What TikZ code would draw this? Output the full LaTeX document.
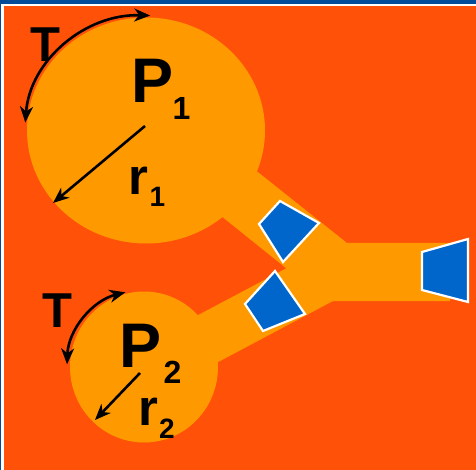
\documentclass[tikz,border=0pt]{standalone}
\usepackage{fontspec}
\setmainfont{Liberation Sans}
\usetikzlibrary{shapes.geometric,arrows.meta}
\definecolor{bgred}{HTML}{FF5208}
\definecolor{orng}{HTML}{FF9900}
\definecolor{blu}{HTML}{0066CC}
\definecolor{frameblue}{HTML}{004C99}
\tikzset{
  bulb/.style={ellipse, fill=orng, inner sep=0pt, draw=none},
  valve/.style={fill=blu, draw=white, line width=2.2pt, line join=miter},
  lbl/.style={inner sep=0pt, text=black, font=\bfseries},
  tip/.style={Stealth[length=16pt,width=13pt,inset=5pt]},
  arr/.style={line width=2.6pt, -{Stealth[length=16pt,width=13pt,inset=5pt]}},
  darr/.style={line width=2.6pt, {Stealth[length=16pt,width=13pt,inset=5pt]}-{Stealth[length=16pt,width=13pt,inset=5pt]}}
}
\begin{document}
\begin{tikzpicture}[x=1pt,y=-1pt]
\useasboundingbox (0,0) rectangle (476,470);
% frame and background
\fill[frameblue] (0,0) rectangle (476,470);
\fill[white] (1,4) rectangle (476,470);
\fill[bgred] (4,6) rectangle (476,470);
% stems and bar
\fill[orng] (200,126) -- (347,243) -- (450,243) -- (450,301) -- (333,301)
  -- (190,377) -- (170,330) -- (286.3,268.3) -- (180,183) -- cycle;
% bulbs
\node[bulb, minimum width=238pt, minimum height=226pt] (P1c) at (146,130.5) {};
\node[bulb, minimum width=148pt, minimum height=151pt] (P2c) at (144,367) {};
% valves
\filldraw[valve] (280,201) -- (319,223) -- (283,262) -- (259,224) -- cycle;
\filldraw[valve] (275,271) -- (305,314) -- (263,331) -- (245,304) -- cycle;
\filldraw[valve] (422,252) -- (468,239) -- (468,302) -- (422,290) -- cycle;
% labels
\node[lbl, anchor=base, font=\bfseries\fontsize{49}{49}\selectfont] (T1) at (45.5,62) {T};
\node[lbl, anchor=base, font=\bfseries\fontsize{63}{63}\selectfont] (P1) at (153,103) {P};
\node[lbl, anchor=base, font=\bfseries\fontsize{32}{32}\selectfont] (s1) at (181.5,120) {1};
\node[lbl, anchor=base east, font=\bfseries\fontsize{51}{51}\selectfont] (r1) at (149,195) {r};
\node[lbl, anchor=base west, font=\bfseries\fontsize{28}{28}\selectfont] (rs1) at (149.5,207) {1};
\node[lbl, anchor=base, font=\bfseries\fontsize{49}{49}\selectfont] (T2) at (57.5,327) {T};
\node[lbl, anchor=base, font=\bfseries\fontsize{63}{63}\selectfont] (P2) at (140.5,367) {P};
\node[lbl, anchor=base, font=\bfseries\fontsize{32}{32}\selectfont] (s2) at (172.5,383) {2};
\node[lbl, anchor=base east, font=\bfseries\fontsize{51}{51}\selectfont] (r2) at (158.5,425) {r};
\node[lbl, anchor=base west, font=\bfseries\fontsize{28}{28}\selectfont] (rs2) at (159,438) {2};
% radius arrows
\coordinate (a1s) at (145,126);
\coordinate (a1e) at (53,203);
\draw[arr] (a1s) -- (a1e);
\coordinate (a2s) at (140,373);
\coordinate (a2e) at (95,420);
\draw[arr] (a2s) -- (a2e);
% tension arcs
\draw[darr] ([shift={(176:121pt and 115pt)}]P1c.center) arc[start angle=176, end angle=88, x radius=121pt, y radius=115pt];
\draw[darr] ([shift={(178:77pt and 77pt)}]P2c.center) arc[start angle=178, end angle=104, x radius=77pt, y radius=77pt];
\end{tikzpicture}
\end{document}
